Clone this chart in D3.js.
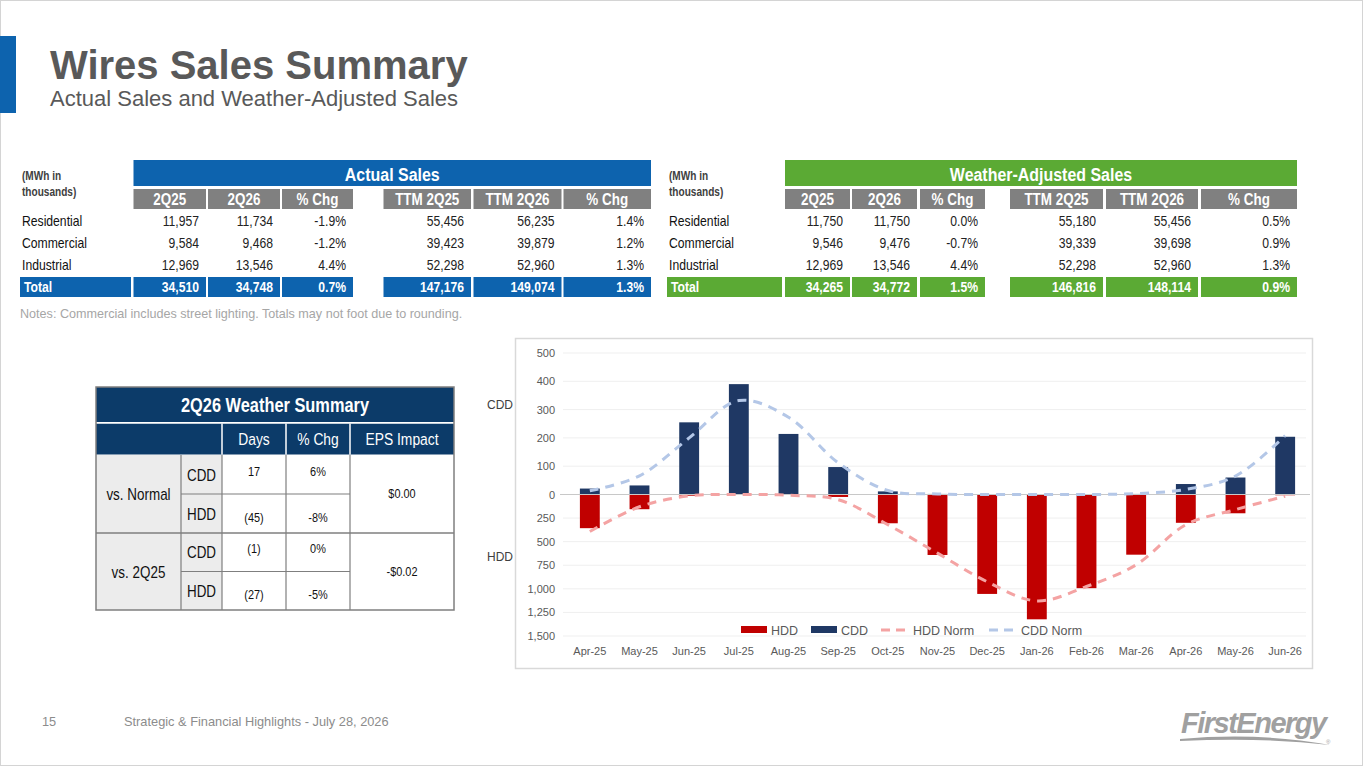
<!DOCTYPE html>
<html>
<head>
<meta charset="utf-8">
<script src="https://cdn.jsdelivr.net/npm/d3@7"></script>
<style>
  body { margin: 0; background: #fff; }
  svg { display: block; }
</style>
</head>
<body>
<svg id="slide"></svg>
<script>
// ---- data ----
const months = ["Apr-25","May-25","Jun-25","Jul-25","Aug-25","Sep-25","Oct-25","Nov-25","Dec-25","Jan-26","Feb-26","Mar-26","Apr-26","May-26","Jun-26"];
const hdd     = [357, 156, 13, 2, 5, 26, 305, 641, 1054, 1323, 993, 638, 300, 199, 8];
const cdd     = [21, 32, 255, 390, 214, 97, 11, 2, 0, 0, 0, 2, 37, 60, 204];
const hddNorm = [392, 130, 15, 0, 8, 55, 320, 622, 925, 1128, 975, 745, 320, 160, 18];
const cddNorm = [13, 66, 200, 332, 273, 112, 14, 2, 0, 0, 0, 3, 18, 65, 208];
const cddTicks = [0, 100, 200, 300, 400, 500];
const hddTicks = [250, 500, 750, 1000, 1250, 1500];

const salesCols = ["2Q25", "2Q26", "% Chg", "TTM 2Q25", "TTM 2Q26", "% Chg"];
const salesRows = ["Residential", "Commercial", "Industrial"];
const actualVals = [
  ["11,957", "11,734", "-1.9%", "55,456", "56,235", "1.4%"],
  ["9,584", "9,468", "-1.2%", "39,423", "39,879", "1.2%"],
  ["12,969", "13,546", "4.4%", "52,298", "52,960", "1.3%"]
];
const actualTotal = ["34,510", "34,748", "0.7%", "147,176", "149,074", "1.3%"];
const adjustedVals = [
  ["11,750", "11,750", "0.0%", "55,180", "55,456", "0.5%"],
  ["9,546", "9,476", "-0.7%", "39,339", "39,698", "0.9%"],
  ["12,969", "13,546", "4.4%", "52,298", "52,960", "1.3%"]
];
const adjustedTotal = ["34,265", "34,772", "1.5%", "146,816", "148,114", "0.9%"];

const wxHead = ["Days", "% Chg", "EPS Impact"];
const wxGroups = ["vs. Normal", "vs. 2Q25"];
const wxKinds = ["CDD", "HDD"];
const wxDays = [["17", "(45)"], ["(1)", "(27)"]];
const wxPct = [["6%", "-8%"], ["0%", "-5%"]];
const wxEps = ["$0.00", "-$0.02"];

// ---- page ----
const W = 1365, H = 768;
const BLUE = "#0D63AE", GREEN = "#5BAA34", GREY = "#808080", NAVY = "#0C3B69";
const SANS = "'Liberation Sans', Arial, sans-serif";
const SX = 0.84; // squeeze Liberation Sans to look like Arial Narrow

const svg = d3.select("#slide").attr("width", W).attr("height", H);

// narrow text: position through a transform so the squeeze keeps anchors right
const fx = v => (typeof v === "function" ? v : () => v);
function narrow(sel, x, y) {
  const X = fx(x), Y = fx(y);
  return sel.attr("font-family", SANS)
    .attr("transform", (d, i) => `translate(${X(d, i)},${Y(d, i)}) scale(${SX},1)`);
}

svg.append("rect").attr("x", 0.5).attr("y", 0.5).attr("width", W - 3).attr("height", H - 3)
    .attr("fill", "#fff").attr("stroke", "#d4d4d4");
svg.append("rect").attr("x", 0).attr("y", 36).attr("width", 16).attr("height", 77).attr("fill", BLUE);

svg.append("text").attr("x", 50).attr("y", 79)
    .attr("font-family", SANS).attr("font-weight", "bold").attr("font-size", 40)
    .attr("fill", "#595959").text("Wires Sales Summary");
svg.append("text").attr("x", 50).attr("y", 106)
    .attr("font-family", SANS).attr("font-size", 22)
    .attr("fill", "#595959").text("Actual Sales and Weather-Adjusted Sales");

// ---- sales tables ----
function salesTable(cfg) {
  const g = svg.append("g");
  const left = cfg.cols[0][0], right = cfg.cols[cfg.cols.length - 1][1];

  g.selectAll("text.unit").data(["(MWh in", "thousands)"]).join("text").attr("class", "unit")
      .call(narrow, cfg.labelX + 2, (d, i) => 180 + i * 16)
      .attr("font-size", 12).attr("font-weight", "bold").attr("fill", "#404040").text(d => d);

  g.append("rect").attr("x", left).attr("y", 160).attr("width", right - left).attr("height", 26)
      .attr("fill", cfg.color);
  g.append("text").call(narrow, (left + right) / 2, 180.5)
      .attr("text-anchor", "middle").attr("font-size", 19).attr("font-weight", "bold")
      .attr("fill", "#fff").text(cfg.title);

  g.selectAll("rect.sub").data(cfg.cols).join("rect").attr("class", "sub")
      .attr("x", d => d[0]).attr("y", 189).attr("width", d => d[1] - d[0]).attr("height", 20)
      .attr("fill", GREY);
  g.selectAll("text.sub").data(salesCols).join("text").attr("class", "sub")
      .call(narrow, (d, i) => (cfg.cols[i][0] + cfg.cols[i][1]) / 2, 205)
      .attr("text-anchor", "middle").attr("font-size", 16).attr("font-weight", "bold")
      .attr("fill", "#fff").text(d => d);

  salesRows.forEach((r, ri) => {
    const y = 226 + ri * 22;
    g.append("text").call(narrow, cfg.labelX + 2, y).attr("font-size", 14.5)
        .attr("fill", "#111").text(r);
    g.selectAll(null).data(cfg.vals[ri]).join("text")
        .call(narrow, (d, i) => cfg.cols[i][1] - 7, y)
        .attr("text-anchor", "end").attr("font-size", 14.5).attr("fill", "#222").text(d => d);
  });

  const ty = 277;
  g.append("rect").attr("x", cfg.labelX).attr("y", ty).attr("width", cfg.labelW).attr("height", 20)
      .attr("fill", cfg.color);
  g.append("text").call(narrow, cfg.labelX + 4, ty + 15).attr("font-size", 14.5)
      .attr("font-weight", "bold").attr("fill", "#fff").text("Total");
  g.selectAll("rect.tot").data(cfg.cols).join("rect").attr("class", "tot")
      .attr("x", d => d[0]).attr("y", ty).attr("width", d => d[1] - d[0]).attr("height", 20)
      .attr("fill", cfg.color);
  g.selectAll("text.tot").data(cfg.total).join("text").attr("class", "tot")
      .call(narrow, (d, i) => cfg.cols[i][1] - 7, ty + 15)
      .attr("text-anchor", "end").attr("font-size", 14.5).attr("font-weight", "bold")
      .attr("fill", "#fff").text(d => d);
}

salesTable({
  title: "Actual Sales", color: BLUE, labelX: 20, labelW: 111,
  cols: [[133.5, 206], [208, 280], [282, 353], [383.5, 471], [473.5, 561.5], [563.5, 651]],
  vals: actualVals, total: actualTotal
});
salesTable({
  title: "Weather-Adjusted Sales", color: GREEN, labelX: 667, labelW: 115,
  cols: [[785, 850], [852, 917], [920, 985], [1010, 1103], [1106, 1198], [1201, 1297]],
  vals: adjustedVals, total: adjustedTotal
});

svg.append("text").attr("x", 20).attr("y", 318).attr("font-family", SANS).attr("font-size", 12.6)
    .attr("fill", "#a6a6a6")
    .text("Notes: Commercial includes street lighting. Totals may not foot due to rounding.");

// ---- weather summary table ----
(function () {
  const g = svg.append("g");
  const x0 = 96, x1 = 454;
  const colX = [96, 181, 222, 286, 350, 454];
  const rowY = [455, 494, 533, 571.5, 610];

  g.append("rect").attr("x", x0).attr("y", 387).attr("width", x1 - x0).attr("height", 35).attr("fill", NAVY);
  g.append("text").call(narrow, (x0 + x1) / 2, 412).attr("text-anchor", "middle")
      .attr("font-size", 19.5).attr("font-weight", "bold").attr("fill", "#fff").text("2Q26 Weather Summary");
  g.append("rect").attr("x", x0).attr("y", 423.5).attr("width", x1 - x0).attr("height", 31).attr("fill", NAVY);
  g.append("line").attr("x1", x0).attr("x2", x1).attr("y1", 422.8).attr("y2", 422.8)
      .attr("stroke", "#fff").attr("stroke-width", 1.5);
  g.selectAll("line.hd").data(colX.slice(2, 5)).join("line").attr("class", "hd")
      .attr("x1", d => d).attr("x2", d => d).attr("y1", 423.5).attr("y2", 454.5)
      .attr("stroke", "#fff").attr("stroke-width", 1.5);
  g.selectAll("text.hd").data(wxHead).join("text").attr("class", "hd")
      .call(narrow, (d, i) => (colX[i + 2] + colX[i + 3]) / 2, 445)
      .attr("text-anchor", "middle").attr("font-size", 16.5).attr("fill", "#fff").text(d => d);

  g.append("rect").attr("x", colX[0]).attr("y", rowY[0]).attr("width", colX[2] - colX[0])
      .attr("height", rowY[4] - rowY[0]).attr("fill", "#ececec");

  const st = "#7f7f7f";
  wxGroups.forEach((grp, gi) => {
    const ya = rowY[gi * 2], yb = rowY[gi * 2 + 2], ym = rowY[gi * 2 + 1];
    g.append("text").call(narrow, (colX[0] + colX[1]) / 2, (ya + yb) / 2 + 6)
        .attr("text-anchor", "middle").attr("font-size", 16).attr("fill", "#111").text(grp);
    g.append("line").attr("x1", colX[1]).attr("x2", colX[4]).attr("y1", ym).attr("y2", ym)
        .attr("stroke", st).attr("stroke-width", 1.2);
    g.append("text").call(narrow, (colX[4] + colX[5]) / 2, (ya + yb) / 2 + 4)
        .attr("text-anchor", "middle").attr("font-size", 13).attr("fill", "#111").text(wxEps[gi]);
    wxKinds.forEach((k, ki) => {
      const yc = (rowY[gi * 2 + ki] + rowY[gi * 2 + ki + 1]) / 2;
      g.append("text").call(narrow, (colX[1] + colX[2]) / 2, yc + 6)
          .attr("text-anchor", "middle").attr("font-size", 16).attr("fill", "#111").text(k);
      g.append("text").call(narrow, (colX[2] + colX[3]) / 2, yc + (ki ? 8 : 1))
          .attr("text-anchor", "middle").attr("font-size", 13).attr("fill", "#111").text(wxDays[gi][ki]);
      g.append("text").call(narrow, (colX[3] + colX[4]) / 2, yc + (ki ? 8 : 1))
          .attr("text-anchor", "middle").attr("font-size", 13).attr("fill", "#111").text(wxPct[gi][ki]);
    });
  });
  g.append("line").attr("x1", x0).attr("x2", x1).attr("y1", rowY[2]).attr("y2", rowY[2])
      .attr("stroke", st).attr("stroke-width", 1.5);
  g.selectAll("line.v").data(colX.slice(1, 5)).join("line").attr("class", "v")
      .attr("x1", d => d).attr("x2", d => d).attr("y1", rowY[0]).attr("y2", rowY[4])
      .attr("stroke", st).attr("stroke-width", 1.2);
  g.append("rect").attr("x", x0).attr("y", 387).attr("width", x1 - x0).attr("height", rowY[4] - 387)
      .attr("fill", "none").attr("stroke", st).attr("stroke-width", 1.5);
})();

// ---- degree-day chart ----
svg.append("rect").attr("x", 515.5).attr("y", 338.5).attr("width", 797).attr("height", 330)
    .attr("fill", "#fff").attr("stroke", "#d9d9d9").attr("stroke-width", 1.5);

const x = d3.scaleBand().domain(months).range([565, 1310]).paddingInner(0.6).paddingOuter(0.3);
const zeroY = 494.5;
const yC = d3.scaleLinear().domain([0, 500]).range([zeroY, 353]);
const yH = d3.scaleLinear().domain([0, 1500]).range([zeroY, 636]);
const cx = m => x(m) + x.bandwidth() / 2;
const fmt = d3.format(",");

const chart = svg.append("g").attr("font-family", SANS);

const gridTicks = cddTicks.slice(1).map(t => yC(t)).concat(hddTicks.map(t => yH(t)));
chart.selectAll("line.grid").data(gridTicks).join("line").attr("class", "grid")
    .attr("x1", 563).attr("x2", 1306).attr("y1", d => d).attr("y2", d => d)
    .attr("stroke", "#efefef");

chart.selectAll("text.yc").data(cddTicks).join("text").attr("class", "yc")
    .attr("x", 555).attr("y", d => yC(d) + 4).attr("text-anchor", "end")
    .attr("font-size", 11).attr("fill", "#595959").text(fmt);
chart.selectAll("text.yh").data(hddTicks).join("text").attr("class", "yh")
    .attr("x", 555).attr("y", d => yH(d) + 4).attr("text-anchor", "end")
    .attr("font-size", 11).attr("fill", "#595959").text(fmt);

chart.append("text").attr("x", 500).attr("y", 409).attr("text-anchor", "middle")
    .attr("font-size", 12).attr("fill", "#404040").text("CDD");
chart.append("text").attr("x", 500).attr("y", 561).attr("text-anchor", "middle")
    .attr("font-size", 12).attr("fill", "#404040").text("HDD");

chart.selectAll("rect.cdd").data(cdd).join("rect").attr("class", "cdd")
    .attr("x", (d, i) => x(months[i])).attr("width", x.bandwidth())
    .attr("y", d => yC(d)).attr("height", d => zeroY - yC(d)).attr("fill", "#1F3864");
chart.selectAll("rect.hdd").data(hdd).join("rect").attr("class", "hdd")
    .attr("x", (d, i) => x(months[i])).attr("width", x.bandwidth())
    .attr("y", zeroY).attr("height", d => yH(d) - zeroY).attr("fill", "#C00000");

chart.append("line").attr("x1", 560).attr("x2", 1310).attr("y1", zeroY).attr("y2", zeroY)
    .attr("stroke", "#c8c8c8");

const lineC = d3.line().x((d, i) => cx(months[i])).y(d => yC(d)).curve(d3.curveCatmullRom);
const lineH = d3.line().x((d, i) => cx(months[i])).y(d => yH(d)).curve(d3.curveCatmullRom);
chart.append("path").attr("d", lineH(hddNorm)).attr("fill", "none")
    .attr("stroke", "#F4A3A3").attr("stroke-width", 3).attr("stroke-dasharray", "9,7");
chart.append("path").attr("d", lineC(cddNorm)).attr("fill", "none")
    .attr("stroke", "#B4C7E7").attr("stroke-width", 3).attr("stroke-dasharray", "9,7");

chart.selectAll("text.xl").data(months).join("text").attr("class", "xl")
    .attr("x", d => cx(d)).attr("y", 655).attr("text-anchor", "middle")
    .attr("font-size", 11).attr("fill", "#595959").text(d => d);

// legend
const legend = [
  { name: "HDD", type: "bar", color: "#C00000", x: 741 },
  { name: "CDD", type: "bar", color: "#1F3864", x: 811 },
  { name: "HDD Norm", type: "line", color: "#F4A3A3", x: 881 },
  { name: "CDD Norm", type: "line", color: "#B4C7E7", x: 989 }
];
const lg = chart.selectAll("g.lg").data(legend).join("g").attr("class", "lg")
    .attr("transform", d => `translate(${d.x},630)`);
lg.filter(d => d.type === "bar").append("rect")
    .attr("x", 0).attr("y", -4).attr("width", 26).attr("height", 7).attr("fill", d => d.color);
lg.filter(d => d.type === "line").append("line")
    .attr("x1", 0).attr("x2", 27).attr("y1", 0).attr("y2", 0).attr("stroke", d => d.color)
    .attr("stroke-width", 3).attr("stroke-dasharray", "9,6");
lg.append("text").attr("x", d => d.type === "bar" ? 30 : 32).attr("y", 4.5)
    .attr("font-size", 12.5).attr("fill", "#595959").text(d => d.name);

// ---- footer ----
svg.append("text").attr("x", 42).attr("y", 726).attr("font-family", SANS).attr("font-size", 12.8)
    .attr("fill", "#8c8c8c").text("15");
svg.append("text").attr("x", 124).attr("y", 726).attr("font-family", SANS).attr("font-size", 12.8)
    .attr("fill", "#8c8c8c").text("Strategic & Financial Highlights - July 28, 2026");

const logo = svg.append("g").attr("fill", "#a0a0a0");
logo.append("text").attr("x", 1181).attr("y", 733).attr("font-family", SANS)
    .attr("font-weight", "bold").attr("font-style", "italic").attr("font-size", 29)
    .attr("letter-spacing", -1.5).text("FirstEnergy");
logo.append("path").attr("d", "M1180,739 Q1260,732 1330,745 Q1262,737 1180,741 Z");
logo.append("text").attr("x", 1326).attr("y", 744).attr("font-family", SANS)
    .attr("font-size", 6).text("®");
</script>
</body>
</html>
